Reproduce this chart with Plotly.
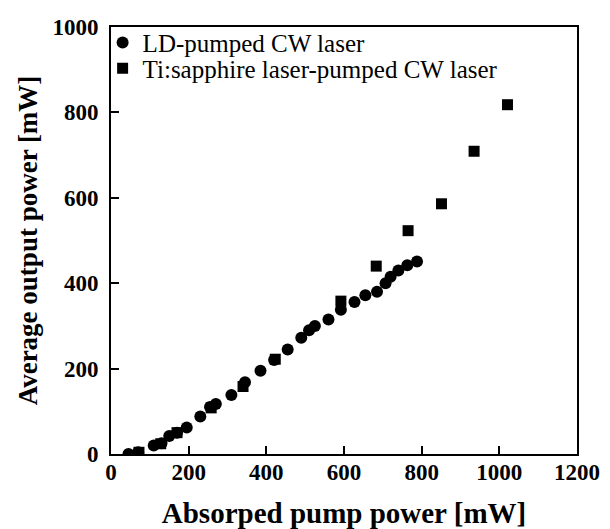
import plotly.graph_objects as go

# LD-pumped CW laser (circles)
ld_x = [45, 70, 110, 130, 150, 170, 195, 230, 255, 270, 310, 345, 385, 420, 455,
        490, 510, 525, 560, 592, 627, 655, 685, 707, 720, 740, 763, 788]
ld_y = [0, 4, 20, 25, 42, 50, 62, 88, 110, 117, 138, 168, 195, 220, 245,
        272, 290, 300, 315, 338, 356, 372, 380, 400, 415, 430, 442, 451]

# Ti:sapphire laser-pumped CW laser (squares)
ti_x = [72, 128, 170, 258, 340, 423, 592, 683, 765, 851, 935, 1021]
ti_y = [4, 24, 50, 108, 158, 222, 358, 440, 523, 586, 709, 818]

x_ticks = [0, 200, 400, 600, 800, 1000, 1200]
y_ticks = [0, 200, 400, 600, 800, 1000]

serif = "Liberation Serif, Times New Roman, serif"

fig = go.Figure()
fig.add_trace(go.Scatter(x=ld_x, y=ld_y, mode="markers", name="LD-pumped CW laser",
                         marker=dict(symbol="circle", size=12, color="black"),
                         legend="legend"))
fig.add_trace(go.Scatter(x=ti_x, y=ti_y, mode="markers", name="Ti:sapphire laser-pumped CW laser",
                         marker=dict(symbol="square", size=11, color="black"),
                         legend="legend2"))

axis_common = dict(showgrid=False, zeroline=False, showline=True, linecolor="black",
                   linewidth=2, mirror=True, ticks="inside", ticklen=8, tickwidth=2,
                   tickcolor="black", automargin=False,
                   tickfont=dict(family=serif, size=23, color="black", weight="bold"))

fig.update_xaxes(range=[0, 1200], tickvals=x_ticks, ticktext=[str(v) for v in x_ticks],
                 ticklabelstandoff=-4,
                 title=dict(text="Absorped pump power [mW]", standoff=22,
                            font=dict(family=serif, size=29, color="black", weight="bold")),
                 **axis_common)
fig.update_yaxes(range=[0, 1000], tickvals=y_ticks, ticktext=[str(v) for v in y_ticks],
                 ticklabelstandoff=6,
                 title=dict(text="Average output power [mW]", standoff=7,
                            font=dict(family=serif, size=27, color="black", weight="bold")),
                 **axis_common)

leg_common = dict(xanchor="left", yanchor="middle", bgcolor="rgba(0,0,0,0)", borderwidth=0,
                  font=dict(family=serif, size=25, color="black"), itemwidth=30)

# The page body adds an 8px margin, so the figure is sized to fill the rest of the window.
fig.update_layout(
    width=602, height=521,
    margin=dict(l=103, r=33, t=13, b=75),
    plot_bgcolor="white", paper_bgcolor="white",
    font=dict(family=serif, color="black"),
    legend=dict(x=-0.018, y=0.963, **leg_common),
    legend2=dict(x=-0.018, y=0.903, **leg_common),
    showlegend=True,
)

fig.write_html("out.html")
